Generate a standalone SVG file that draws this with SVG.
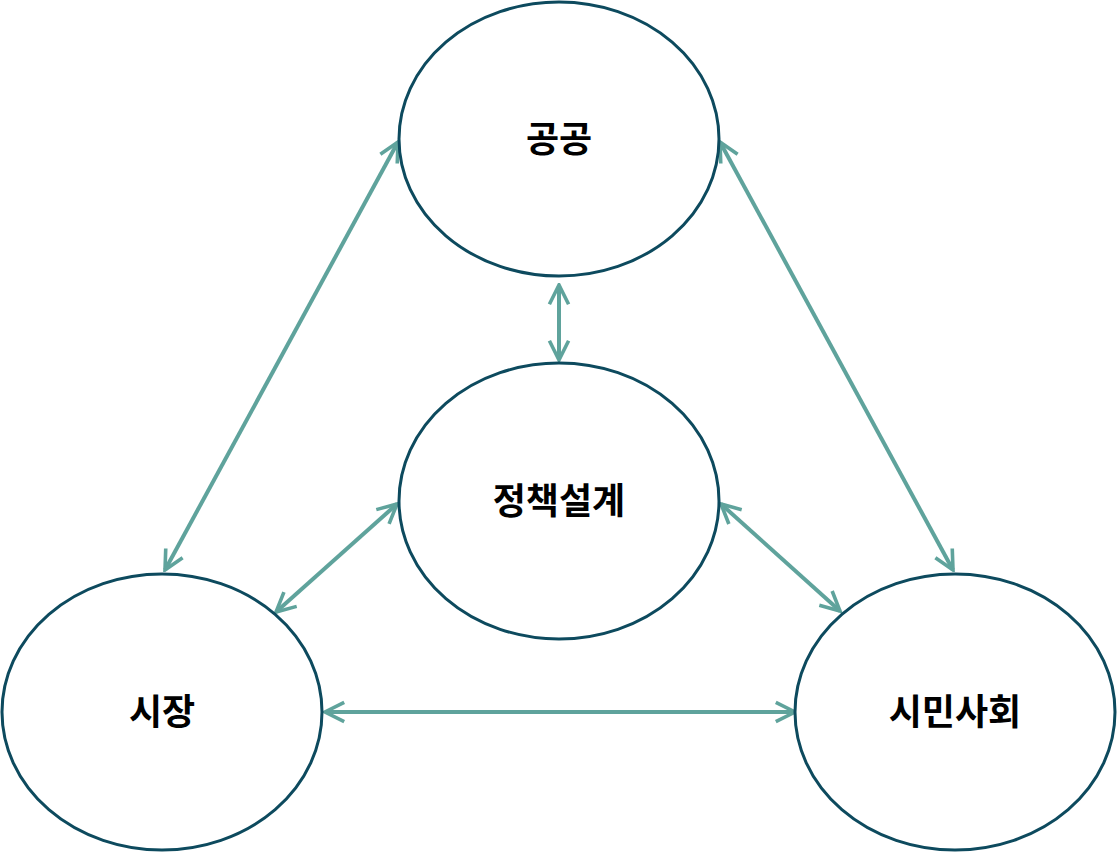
<svg xmlns="http://www.w3.org/2000/svg" width="1117" height="852" viewBox="0 0 1117 852">
<defs>
<marker id="ah" viewBox="0 0 20 20" refX="18" refY="10" markerWidth="6" markerHeight="6" orient="auto-start-reverse" markerUnits="strokeWidth">
<path d="M2,2 L18,10 L2,18" fill="none" stroke="#5fa39c" stroke-width="3"/>
</marker>
<style>
.n{fill:#fff;stroke:#0d4a5e;stroke-width:3}
.t{font-family:"Noto Sans CJK KR",sans-serif;font-weight:bold;font-size:36px;text-anchor:middle;fill:#000}
.c{stroke:#5fa39c;stroke-width:4;fill:none;marker-start:url(#ah);marker-end:url(#ah)}
</style>
</defs>
<rect width="1117" height="852" fill="#fff"/>
<g id="connectors">
<line class="c" x1="398" y1="142" x2="165" y2="570"/>
<line class="c" x1="720" y1="142" x2="953" y2="570"/>
<line class="c" x1="559" y1="285" x2="559" y2="360"/>
<line class="c" x1="397" y1="504" x2="276" y2="612"/>
<line class="c" x1="721" y1="504" x2="840" y2="611"/>
<line class="c" x1="325" y1="712" x2="795" y2="712"/>
</g>
<g id="gonggong"><ellipse class="n" cx="559" cy="139" rx="160" ry="137"/><text class="t" x="559" y="152">공공</text></g>
<g id="policy"><ellipse class="n" cx="559" cy="501" rx="160" ry="138"/><text class="t" x="559" y="514">정책설계</text></g>
<g id="market"><ellipse class="n" cx="162" cy="712" rx="160" ry="138"/><text class="t" x="162" y="725">시장</text></g>
<g id="civil"><ellipse class="n" cx="955" cy="712" rx="160" ry="138"/><text class="t" x="955" y="725">시민사회</text></g>
</svg>
